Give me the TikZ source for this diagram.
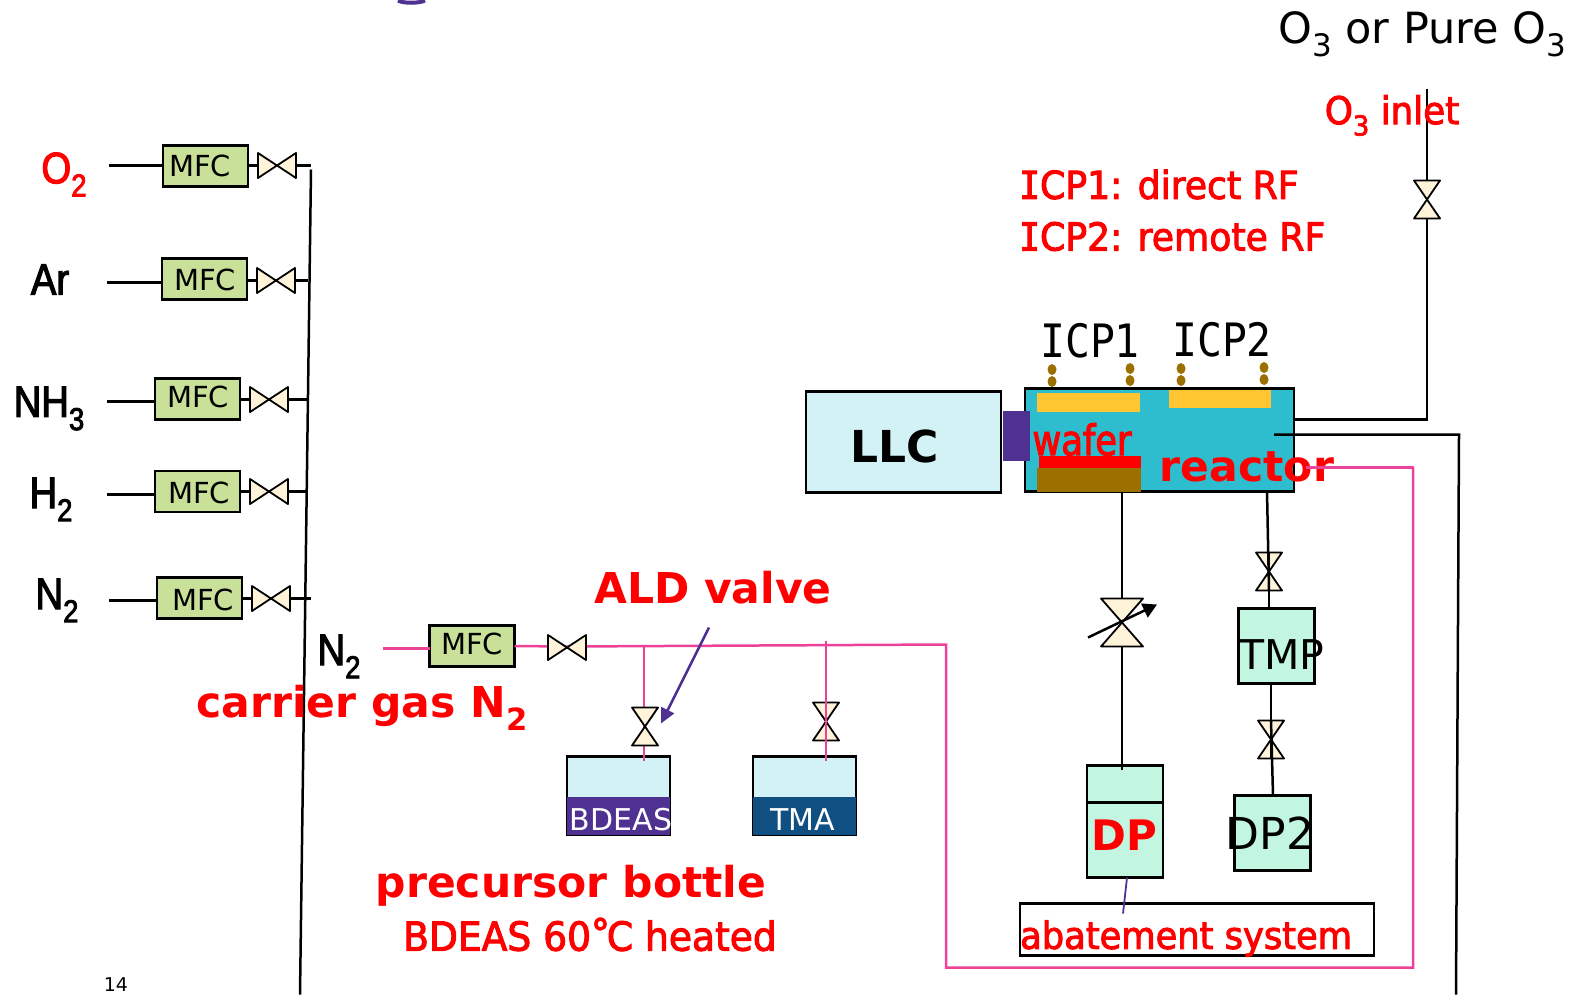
\documentclass[tikz,border=0pt]{standalone}
\usepackage{fontspec}
\usepackage{xcolor}
\usetikzlibrary{arrows.meta,shapes.geometric}
\setmainfont{DejaVu Sans}
\newfontfamily\narrowfont[FakeStretch=0.84,FakeBold=2.5]{DejaVu Sans}
\newfontfamily\redfont[FakeStretch=0.94,FakeBold=2.5]{DejaVu Sans}
\newfontfamily\gasfont[FakeStretch=0.87,FakeBold=2.5]{Liberation Sans}
\newfontfamily\icpfont[FakeStretch=0.9]{DejaVu Sans Mono}
\newfontfamily\redmono[FakeStretch=0.9,FakeBold=2.5]{DejaVu Sans Mono}
\newcommand{\fsz}[1]{\fontsize{#1}{#1}\selectfont}
\newcommand{\lowsub}[1]{\raisebox{-0.3em}{\scalebox{0.72}{#1}}}
\newcommand{\serifI}{{\redmono I}}
\definecolor{mfcgreen}{HTML}{C8E098}
\definecolor{cream}{HTML}{FFF4DA}
\definecolor{mint}{HTML}{C3F6E0}
\definecolor{palecyan}{HTML}{D2F2F6}
\definecolor{chamber}{HTML}{2DBDCE}
\definecolor{pinkline}{HTML}{EC4399}
\definecolor{violet}{HTML}{4F3191}
\definecolor{navy}{HTML}{0F4F82}
\definecolor{heater}{HTML}{9C7000}
\definecolor{coil}{HTML}{FFC632}
\tikzset{
  pipe/.style={draw=black,line width=2.5pt},
  pinkpipe/.style={draw=pinkline,line width=2.5pt},
  mfcbox/.style={draw=black,fill=mfcgreen,line width=2.2pt,minimum width=85pt,minimum height=41pt,inner sep=0pt,outer sep=0pt},
  pumpbox/.style={draw=black,fill=mint,line width=2.2pt,minimum width=76pt,inner sep=0pt,outer sep=0pt},
  bottlebox/.style={draw=black,fill=palecyan,line width=2.2pt,minimum width=103pt,minimum height=78pt,inner sep=0pt,outer sep=0pt},
  liquid/.style={minimum width=103pt,minimum height=38pt,inner sep=0pt},
  liquidtext/.style={inner sep=0pt,text=white,font=\fsz{30}},
  mfctext/.style={inner sep=0pt,font=\fsz{29}},
  gaslabel/.style={inner sep=0pt,font=\gasfont\fsz{44}},
  redbold/.style={inner sep=0pt,text=red,font=\bfseries\fsz{42.5}},
  redtext/.style={inner sep=0pt,text=red,font=\redfont\fsz{40}},
  dot/.style={ellipse,fill=heater,minimum width=9pt,minimum height=11pt,inner sep=0pt},
  pics/valve/.style n args={2}{code={
    \draw[fill=cream,line width=1.8pt,line join=round] (-#1,-#2) -- (#1,#2) -- (#1,-#2) -- (-#1,#2) -- cycle;
    \coordinate (-a) at (-#1,0);
    \coordinate (-b) at (#1,0);
  }},
}
\begin{document}
\begin{tikzpicture}[x=1pt,y=-1pt]
\useasboundingbox (-1,-0.5) rectangle (1569,993.5);

% gas lines
\foreach \nm/\bx/\by/\tx/\ty/\vx/\vy/\lx/\ly/\ex in {
  O/204.5/165.5/199/165/276/165/108/165/310,
  Ar/203.5/278.5/204/279/275/280/106/282/307,
  N/196.5/398.5/197/396/268/399/106/401/307,
  H/196.5/491/198/492/268/491/106/494/307,
  M/198.5/597.5/202/599/270/598/108/600/310}{
  \coordinate (in\nm) at (\lx,\ly);
  \coordinate (out\nm) at (\ex,\vy);
  \draw[pipe] (in\nm) -- (\bx,\ly);
  \node[mfcbox] (mfc\nm) at (\bx,\by) {};
  \node[mfctext] (mfct\nm) at (\tx,\ty) {MFC};
  \draw[pipe] (mfc\nm.east |- out\nm) -- (out\nm);
  \pic (v\nm) at (\vx,\vy) {valve={19}{12.5}};
}

% main line
\coordinate (bustop) at (310,169);
\coordinate (busend) at (299,994);
\draw[pipe] (bustop) -- (busend);

\node[gaslabel,text=red] (gasO) at (63,174) {O\lowsub{2}};
\node[gaslabel] (gasAr) at (49,279) {Ar};
\node[gaslabel] (gasN) at (48,408) {NH\lowsub{3}};
\node[gaslabel] (gasH) at (50,499) {H\lowsub{2}};
\node[gaslabel] (gasM) at (56,600) {N\lowsub{2}};

% carrier line
\coordinate (carin) at (382,648);
\coordinate (ntop) at (945,644);
\coordinate (nbot) at (945,967);
\coordinate (rbot) at (1412,967);
\coordinate (rtop) at (1412,467);
\coordinate (rin) at (1305,467);
\coordinate (tee) at (643,644);
\coordinate (teeb) at (825,640);
\node[mfcbox] (mfcC) at (471,645.5) {};
\node[mfctext] (mfctC) at (471,643) {MFC};
\draw[pinkpipe] (carin) -- (mfcC.west |- carin);
\draw[pinkpipe] (mfcC.east) -- (566,646) -- (ntop) -- (nbot) -- (rbot) -- (rtop) -- (rin);
\pic (vC) at (566,647) {valve={19}{12.5}};
\node[gaslabel] (gasC) at (338,656) {N\lowsub{2}};

% bottles
\node[bottlebox] (botB) at (617.5,795) {};
\node[bottlebox] (botT) at (803.5,795) {};
\node[liquid,fill=violet] (liqB) at (617.5,815) {};
\node[liquid,fill=navy] (liqT) at (803.5,815) {};
\node[liquidtext] (liqBl) at (620,819) {BDEAS};
\node[liquidtext] (liqTl) at (802,819) {TMA};
\draw[pinkpipe] (tee) -- (tee |- botB.north) -- ++(0,4);
\pic[rotate=90] (vB) at (644,726) {valve={19}{13}};
\pic[rotate=90] (vT) at (825,721) {valve={19}{13}};
\draw[pinkpipe] (teeb) -- (teeb |- botT.north) -- ++(0,4);

\coordinate (aldtail) at (708,627);
\coordinate (aldtip) at (660,723);
\draw[violet,line width=2.5pt,-{Triangle[length=15pt,width=14pt]}] (aldtail) -- (aldtip);

% chamber
\node[draw=black,fill=palecyan,line width=2.2pt,minimum width=195pt,minimum height=101pt,inner sep=0pt] (llc) at (902.5,441.5) {};
\node[inner sep=0pt,font=\bfseries\fsz{44}] (llcl) at (894,446) {LLC};
\node[draw=black,fill=chamber,line width=2.2pt,minimum width=269pt,minimum height=103pt,inner sep=0pt] (reactor) at (1158.5,439.5) {};
\node[fill=violet,minimum width=27pt,minimum height=50pt,inner sep=0pt] (door) at (1015.5,435) {};
\node[fill=coil,minimum width=103pt,minimum height=19pt,inner sep=0pt] (coilA) at (1087.5,401.5) {};
\node[fill=coil,minimum width=102pt,minimum height=18pt,inner sep=0pt] (coilB) at (1219,398) {};
\node[fill=red,minimum width=102pt,minimum height=12pt,inner sep=0pt] (wafer) at (1089,461) {};
\node[fill=heater,minimum width=104pt,minimum height=24pt,inner sep=0pt] (stage) at (1088,479) {};

\foreach \i/\x/\y in {1/1051/369,2/1051/381,3/1129/368,4/1129/380,5/1180/368,6/1180/380,7/1263/367,8/1263/379}
  \node[dot] (dot\i) at (\x,\y) {};

\node[inner sep=0pt,font=\icpfont\fsz{46}] (icpA) at (1089,340) {ICP1};
\node[inner sep=0pt,font=\icpfont\fsz{46}] (icpB) at (1221,339) {ICP2};
\node[inner sep=0pt,text=red,font=\narrowfont\fsz{42}] (waferl) at (1081,439) {wafer};
\node[redbold] (reactorl) at (1246,466) {reactor};

% ozone and exhaust
\coordinate (otop) at (1426,88);
\coordinate (ocorner) at (1426,419);
\coordinate (oend) at (1293,419);
\draw[pipe] (otop) -- (ocorner) -- (oend);
\pic[rotate=90] (vO) at (1426,199) {valve={19}{13}};
\coordinate (exin) at (1273,434);
\coordinate (excorner) at (1458,434);
\coordinate (exend) at (1455,994);
\draw[pipe] (exin) -- (excorner) -- (exend);
\draw[pinkpipe] (rtop) -- (rin);

% pumps
\node[pumpbox,minimum height=112pt] (dp) at (1124,821) {};
\node[pumpbox,minimum height=75pt] (tmp) at (1275.5,645.5) {};
\node[pumpbox,minimum height=75pt] (dptwo) at (1271.5,832.5) {};
\coordinate (dpdivl) at (1086,802);
\coordinate (dpdivr) at (1162,802);
\draw[draw=black,line width=2.2pt] (dpdivl) -- (dpdivr);
\coordinate (dpin) at (1121,769);
\coordinate (rout) at (1121,491);
\draw[pipe] (rout) -- (dpin);
\pic[rotate=90] (vD) at (1121,622) {valve={24}{21}};
\coordinate (knoba) at (1087,637);
\coordinate (knobb) at (1156,604);
\draw[pipe,-{Triangle[length=14pt,width=15pt]}] (knoba) -- (knobb);
\coordinate (routb) at (1266,491);
\pic[rotate=90] (vP) at (1268,571) {valve={19}{13}};
\pic[rotate=90] (vQ) at (1270,739) {valve={19}{13}};
\draw[pipe] (routb) -- (vP-a);
\draw[pipe] (vP-b) -- (vP-b |- tmp.north);
\draw[pipe] (1270,683) -- (vQ-a);
\draw[pipe] (vQ-b) -- (1272,795);

\node[inner sep=0pt,font=\fsz{41}] (tmpl) at (1281,654) {TMP};
\node[inner sep=0pt,font=\fsz{44}] (dptwol) at (1269,833) {DP2};
\node[inner sep=0pt,text=red,font=\bfseries\fsz{42}] (dpl) at (1123,835) {DP};

\node[draw=black,line width=2.2pt,minimum width=354pt,minimum height=52pt,inner sep=0pt] (abate) at (1196,929) {};
\node[anchor=west,inner sep=0pt,text=red,font=\redfont\fsz{37.5}] (abatel) at (1019,938) {abatement system};
\coordinate (abtop) at (1122,913);
\draw[violet,line width=1.8pt] (dp.south) ++(2,0) -- (abtop);

% labels
\node[redbold] (aldl) at (712,587) {ALD valve};
\node[redbold] (carl) at (361,707) {carrier gas N\lowsub{2}};
\node[redbold] (botl) at (570,885) {precursor bottle};
\node[redtext] (heatl) at (589,934) {BDEAS 60\raisebox{.08em}{°}\kern-3pt C heated};
\node[redtext,anchor=west,font=\redfont\fsz{38.5}] (icpl) at (1018,184) {\serifI CP1: direct RF};
\node[redtext,anchor=west,font=\redfont\fsz{38.5}] (icpm) at (1018,236) {\serifI CP2: remote RF};
\node[redtext,font=\redfont\fsz{38}] (inletl) at (1391,115) {O\lowsub{3} inlet};
\node[inner sep=0pt,font=\fsz{43}] (titlel) at (1421,34) {O\lowsub{3} or Pure O\lowsub{3}};
\node[inner sep=0pt,font=\fsz{19}] (pagel) at (115,984) {14};
\draw[violet,line width=4pt] (397,0) .. controls (402,3) and (418,3) .. (424,0);

\end{tikzpicture}
\end{document}
